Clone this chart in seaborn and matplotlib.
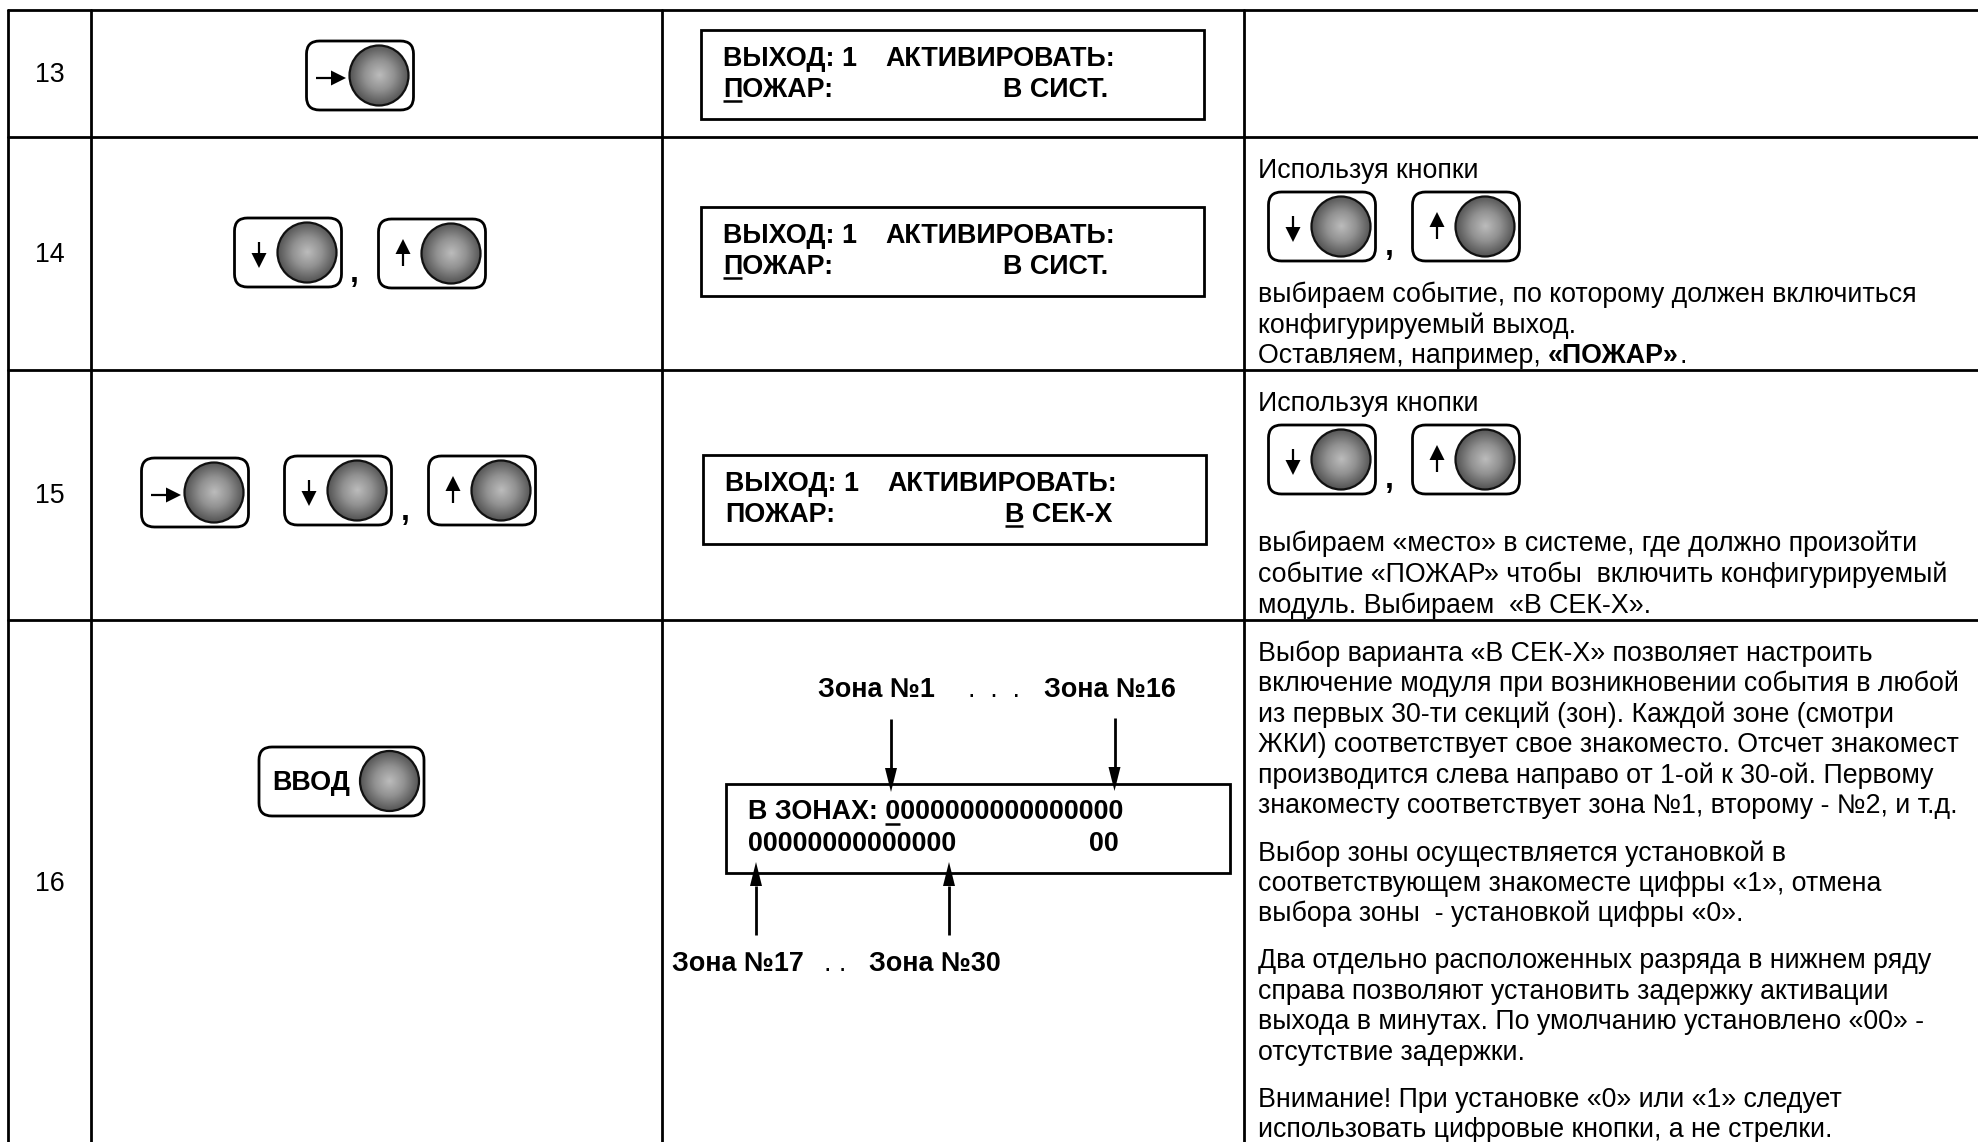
import numpy as np
import pandas as pd
import matplotlib
matplotlib.use("Agg")
import matplotlib.pyplot as plt
from matplotlib.patches import Ellipse, FancyBboxPatch, Polygon, Rectangle
import seaborn as sns

# ---- content ----
ROW_NUMBERS = ["13", "14", "15", "16"]
LCD_LEFT_TOP = ["ВЫХОД: 1", "ВЫХОД: 1", "ВЫХОД: 1"]
LCD_MID_TOP = ["АКТИВИРОВАТЬ:", "АКТИВИРОВАТЬ:", "АКТИВИРОВАТЬ:"]
LCD_LEFT_BOTTOM = ["ПОЖАР:", "ПОЖАР:", "ПОЖАР:"]
LCD_RIGHT_BOTTOM = ["В СИСТ.", "В СИСТ.", "В СЕК-Х"]
BODY_TEXT = [
    "Используя кнопки",
    "выбираем событие, по которому должен включиться",
    "конфигурируемый выход.",
    "Оставляем, например, ",
    "Используя кнопки",
    "выбираем «место» в системе, где должно произойти",
    "событие «ПОЖАР» чтобы  включить конфигурируемый",
    "модуль. Выбираем  «В СЕК-Х».",
    "Выбор варианта «В СЕК-Х» позволяет настроить",
    "включение модуля при возникновении события в любой",
    "из первых 30-ти секций (зон). Каждой зоне (смотри",
    "ЖКИ) соответствует свое знакоместо. Отсчет знакомест",
    "производится слева направо от 1-ой к 30-ой. Первому",
    "знакоместу соответствует зона №1, второму - №2, и т.д.",
    "Выбор зоны осуществляется установкой в",
    "соответствующем знакоместе цифры «1», отмена",
    "выбора зоны  - установкой цифры «0».",
    "Два отдельно расположенных разряда в нижнем ряду",
    "справа позволяют установить задержку активации",
    "выхода в минутах. По умолчанию установлено «00» -",
    "отсутствие задержки.",
    "Внимание! При установке «0» или «1» следует",
    "использовать цифровые кнопки, а не стрелки.",
]
BODY_BASE = [178, 302, 333, 363, 411, 551, 582, 613,
             661, 691, 722, 752, 783, 813, 861, 891, 921,
             968, 999, 1029, 1060, 1107, 1137]
ZONE_LABELS = ["Зона №1", "Зона №16", "Зона №17", "Зона №30"]
ZONE_XY = [(818, 697), (1044, 697), (672, 971), (869, 971)]

W, H = 1978, 1142
BODY_PT = 19.25
BOLD_PT = 19.4

sns.set_theme(style="white")
plt.rcParams["font.family"] = ["Liberation Sans", "DejaVu Sans"]

fig = plt.figure(figsize=(W / 100, H / 100), dpi=100, facecolor="white")
ax = fig.add_axes([0, 0, 1, 1])

# table rules
V = [8, 91, 662, 1244]
R = [10, 136.5, 369.5, 620]
seg = []
for i, x in enumerate(V):
    seg += [(f"v{i}", x, 10), (f"v{i}", x, H)]
for i, y in enumerate(R):
    seg += [(f"h{i}", 8, y), (f"h{i}", W, y)]
grid = pd.DataFrame(seg, columns=["seg", "x", "y"])
sns.lineplot(data=grid, x="x", y="y", units="seg", estimator=None, sort=False,
             color="black", lw=2.0, ax=ax, legend=False)

ax.set_xlim(0, W)
ax.set_ylim(H, 0)
ax.axis("off")

grad_y, grad_x = np.mgrid[-1:1:120j, -1:1:120j]
grad = np.clip(np.hypot(grad_x, grad_y), 0, 1)
cmap = matplotlib.colors.LinearSegmentedColormap.from_list("b", ["#bcbcbc", "#929292", "#555555"])


def knob(cx, cy, rx=29.5, ry=30):
    im = ax.imshow(grad, extent=(cx - rx, cx + rx, cy + ry, cy - ry), cmap=cmap,
                   vmin=0, vmax=1, aspect="auto", zorder=3)
    e = Ellipse((cx, cy), 2 * rx, 2 * ry, fc="none", ec="#111111", lw=1.6, zorder=4)
    ax.add_patch(e)
    im.set_clip_path(e)


def arrow(x0, y0, x1, y1, hl, hw, lw):
    d = np.array([x1 - x0, y1 - y0], float)
    d /= np.hypot(*d)
    n = np.array([-d[1], d[0]])
    tip = np.array([x1, y1], float)
    base = tip - d * hl
    ax.plot([x0, base[0]], [y0, base[1]], color="black", lw=lw, solid_capstyle="butt", zorder=5)
    ax.add_patch(Polygon([tip, base + n * hw / 2, base - n * hw / 2], fc="black", ec="none", zorder=5))


def box(x, y, w, h, r=13):
    ax.add_patch(FancyBboxPatch((x, y), w, h, boxstyle=f"round,pad=0,rounding_size={r}",
                                fc="white", ec="black", lw=2.0, zorder=2, mutation_aspect=1))


def button(x, y, kind):
    box(x + 0.5, y, 107, 69)
    knob(x + 73, y + 34.5)
    if kind == "r":
        arrow(x + 10, y + 37, x + 40, y + 37, 15, 15, 1.6)
    elif kind == "d":
        arrow(x + 25, y + 24, x + 25, y + 50, 15, 15, 1.6)
    else:
        arrow(x + 25, y + 47, x + 25, y + 20, 15, 15, 1.6)


def comma(x, y):
    ax.text(x, y, ",", fontsize=23, fontweight="bold", ha="center", va="baseline", color="black")


# row numbers
for label, cy in zip(ROW_NUMBERS, [75, 255, 496, 884]):
    ax.text(50, cy, label, fontsize=BODY_PT, ha="center", va="center", color="black")

# buttons
button(306, 41, "r")
button(234, 218, "d"); button(378, 219, "u"); comma(354, 282)
button(141, 458, "r"); button(284, 456, "d"); button(428, 456, "u"); comma(405, 520)
button(1268, 192, "d"); button(1412, 192, "u"); comma(1389, 255)
button(1268, 425, "d"); button(1412, 425, "u"); comma(1389, 488)

box(259, 747, 165, 69)
knob(389.5, 781)
ax.text(272, 783, "ВВОД", fontsize=BOLD_PT, fontweight="bold", va="center", color="black")

# LCD panels
lcd_x = [701, 701, 703]
lcd_y = [30, 207, 455]
for i in range(3):
    x, y = lcd_x[i], lcd_y[i]
    ax.add_patch(Rectangle((x, y), 503, 89, fc="white", ec="black", lw=2.0, zorder=2))
    b1, b2 = y + 36, y + 67
    ax.text(x + 22, b1, LCD_LEFT_TOP[i], fontsize=BOLD_PT, fontweight="bold", va="baseline", zorder=5, color="black")
    ax.text(x + 184, b1, LCD_MID_TOP[i], fontsize=BOLD_PT, fontweight="bold", va="baseline", zorder=5, color="black")
    ax.text(x + 22, b2, LCD_LEFT_BOTTOM[i], fontsize=BOLD_PT, fontweight="bold", va="baseline", zorder=5, color="black")
    ax.text(x + 302, b2, LCD_RIGHT_BOTTOM[i], fontsize=BOLD_PT, fontweight="bold", va="baseline", zorder=5, color="black")
    ux = (x + 22, x + 41) if i < 2 else (x + 302, x + 320)
    ax.plot(ux, [b2 + 4, b2 + 4], color="black", lw=1.8, zorder=5, solid_capstyle="butt")

# zone panel
ax.add_patch(Rectangle((726, 784), 504, 89, fc="white", ec="black", lw=2.0, zorder=2))
ax.text(748, 819, "В ЗОНАХ: 0000000000000000", fontsize=BOLD_PT, fontweight="bold", va="baseline", zorder=5, color="black")
ax.text(748, 851, "00000000000000", fontsize=BOLD_PT, fontweight="bold", va="baseline", zorder=5, color="black")
ax.text(1089, 851, "00", fontsize=BOLD_PT, fontweight="bold", va="baseline", zorder=5, color="black")
ax.plot([885, 900], [823.5, 823.5], color="black", lw=1.8, zorder=5, solid_capstyle="butt")
for label, (x, y) in zip(ZONE_LABELS, ZONE_XY):
    ax.text(x, y, label, fontsize=BOLD_PT, fontweight="bold", va="baseline", color="black")
ax.text(968, 697, ".  .  .", fontsize=BODY_PT, va="baseline", color="black")
ax.text(824, 971, ". .", fontsize=BODY_PT, va="baseline", color="black")
arrow(891, 719, 891, 792, 24, 12, 2.0)
arrow(1114.5, 718, 1114.5, 791, 24, 12, 2.0)
arrow(756, 935, 756, 862, 24, 12, 2.0)
arrow(949, 935, 949, 862, 24, 12, 2.0)

# body text
for line, base in zip(BODY_TEXT, BODY_BASE):
    ax.text(1258, base, line, fontsize=BODY_PT, va="baseline", color="black")
ax.text(1548, 363, "«ПОЖАР»", fontsize=BODY_PT, fontweight="bold", va="baseline", color="black")
ax.text(1679, 363, ".", fontsize=BODY_PT, va="baseline", color="black")

fig.savefig("out.png", dpi=100, facecolor="white")
